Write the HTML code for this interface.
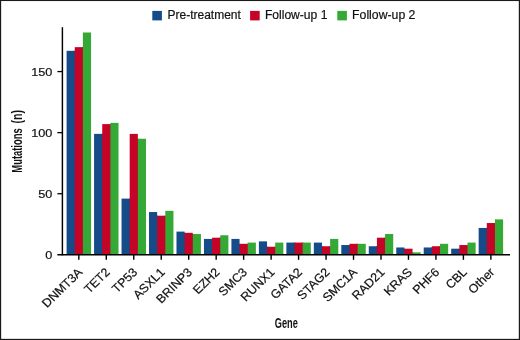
<!DOCTYPE html>
<html><head><meta charset="utf-8"><title>Mutations by gene</title>
<style>
html,body{margin:0;padding:0;background:#fff;}
body{width:520px;height:340px;overflow:hidden;}
svg{display:block;}
text{font-family:"Liberation Sans",sans-serif;fill:#111;}
.t{stroke:#111;stroke-width:0.2px;}
</style></head><body>
<svg width="520" height="340" viewBox="0 0 520 340">
<rect x="0" y="0" width="520" height="340" fill="#fff"/>

<rect x="73.95" y="50.81" width="1.6" height="203.99" fill="#154b88"/>
<rect x="82.10" y="47.15" width="1.6" height="207.66" fill="#c50327"/>
<rect x="66.60" y="50.81" width="8.15" height="203.99" fill="#154b88"/>
<rect x="74.75" y="47.15" width="8.15" height="207.66" fill="#c50327"/>
<rect x="82.90" y="32.49" width="8.15" height="222.31" fill="#35a935"/>
<rect x="101.42" y="133.87" width="1.6" height="120.93" fill="#154b88"/>
<rect x="109.57" y="124.10" width="1.6" height="130.70" fill="#c50327"/>
<rect x="94.07" y="133.87" width="8.15" height="120.93" fill="#154b88"/>
<rect x="102.22" y="124.10" width="8.15" height="130.70" fill="#c50327"/>
<rect x="110.37" y="122.88" width="8.15" height="131.92" fill="#35a935"/>
<rect x="128.89" y="198.61" width="1.6" height="56.19" fill="#154b88"/>
<rect x="137.04" y="138.76" width="1.6" height="116.04" fill="#c50327"/>
<rect x="121.54" y="198.61" width="8.15" height="56.19" fill="#154b88"/>
<rect x="129.69" y="133.87" width="8.15" height="120.93" fill="#c50327"/>
<rect x="137.84" y="138.76" width="8.15" height="116.04" fill="#35a935"/>
<rect x="156.36" y="215.71" width="1.6" height="39.09" fill="#154b88"/>
<rect x="164.51" y="215.71" width="1.6" height="39.09" fill="#c50327"/>
<rect x="149.01" y="212.05" width="8.15" height="42.75" fill="#154b88"/>
<rect x="157.16" y="215.71" width="8.15" height="39.09" fill="#c50327"/>
<rect x="165.31" y="210.83" width="8.15" height="43.97" fill="#35a935"/>
<rect x="183.83" y="232.81" width="1.6" height="21.99" fill="#154b88"/>
<rect x="191.98" y="234.03" width="1.6" height="20.77" fill="#c50327"/>
<rect x="176.48" y="231.59" width="8.15" height="23.21" fill="#154b88"/>
<rect x="184.63" y="232.81" width="8.15" height="21.99" fill="#c50327"/>
<rect x="192.78" y="234.03" width="8.15" height="20.77" fill="#35a935"/>
<rect x="211.30" y="238.92" width="1.6" height="15.88" fill="#154b88"/>
<rect x="219.45" y="237.70" width="1.6" height="17.10" fill="#c50327"/>
<rect x="203.95" y="238.92" width="8.15" height="15.88" fill="#154b88"/>
<rect x="212.10" y="237.70" width="8.15" height="17.10" fill="#c50327"/>
<rect x="220.25" y="235.26" width="8.15" height="19.54" fill="#35a935"/>
<rect x="238.77" y="243.81" width="1.6" height="10.99" fill="#154b88"/>
<rect x="246.92" y="243.81" width="1.6" height="10.99" fill="#c50327"/>
<rect x="231.42" y="238.92" width="8.15" height="15.88" fill="#154b88"/>
<rect x="239.57" y="243.81" width="8.15" height="10.99" fill="#c50327"/>
<rect x="247.72" y="242.59" width="8.15" height="12.21" fill="#35a935"/>
<rect x="266.24" y="246.74" width="1.6" height="8.06" fill="#154b88"/>
<rect x="274.39" y="246.74" width="1.6" height="8.06" fill="#c50327"/>
<rect x="258.89" y="241.36" width="8.15" height="13.44" fill="#154b88"/>
<rect x="267.04" y="246.74" width="8.15" height="8.06" fill="#c50327"/>
<rect x="275.19" y="242.59" width="8.15" height="12.21" fill="#35a935"/>
<rect x="293.71" y="242.59" width="1.6" height="12.21" fill="#154b88"/>
<rect x="301.86" y="242.59" width="1.6" height="12.21" fill="#c50327"/>
<rect x="286.36" y="242.59" width="8.15" height="12.21" fill="#154b88"/>
<rect x="294.51" y="242.59" width="8.15" height="12.21" fill="#c50327"/>
<rect x="302.66" y="242.59" width="8.15" height="12.21" fill="#35a935"/>
<rect x="321.18" y="246.25" width="1.6" height="8.55" fill="#154b88"/>
<rect x="329.33" y="246.25" width="1.6" height="8.55" fill="#c50327"/>
<rect x="313.83" y="242.59" width="8.15" height="12.21" fill="#154b88"/>
<rect x="321.98" y="246.25" width="8.15" height="8.55" fill="#c50327"/>
<rect x="330.13" y="238.92" width="8.15" height="15.88" fill="#35a935"/>
<rect x="348.65" y="245.03" width="1.6" height="9.77" fill="#154b88"/>
<rect x="356.80" y="243.81" width="1.6" height="10.99" fill="#c50327"/>
<rect x="341.30" y="245.03" width="8.15" height="9.77" fill="#154b88"/>
<rect x="349.45" y="243.81" width="8.15" height="10.99" fill="#c50327"/>
<rect x="357.60" y="243.81" width="8.15" height="10.99" fill="#35a935"/>
<rect x="376.12" y="246.25" width="1.6" height="8.55" fill="#154b88"/>
<rect x="384.27" y="237.70" width="1.6" height="17.10" fill="#c50327"/>
<rect x="368.77" y="246.25" width="8.15" height="8.55" fill="#154b88"/>
<rect x="376.92" y="237.70" width="8.15" height="17.10" fill="#c50327"/>
<rect x="385.07" y="234.03" width="8.15" height="20.77" fill="#35a935"/>
<rect x="403.59" y="248.69" width="1.6" height="6.11" fill="#154b88"/>
<rect x="411.74" y="252.36" width="1.6" height="2.44" fill="#c50327"/>
<rect x="396.24" y="247.47" width="8.15" height="7.33" fill="#154b88"/>
<rect x="404.39" y="248.69" width="8.15" height="6.11" fill="#c50327"/>
<rect x="412.54" y="252.36" width="8.15" height="2.44" fill="#35a935"/>
<rect x="431.06" y="247.47" width="1.6" height="7.33" fill="#154b88"/>
<rect x="439.21" y="246.25" width="1.6" height="8.55" fill="#c50327"/>
<rect x="423.71" y="247.47" width="8.15" height="7.33" fill="#154b88"/>
<rect x="431.86" y="246.25" width="8.15" height="8.55" fill="#c50327"/>
<rect x="440.01" y="243.81" width="8.15" height="10.99" fill="#35a935"/>
<rect x="458.53" y="248.69" width="1.6" height="6.11" fill="#154b88"/>
<rect x="466.68" y="245.03" width="1.6" height="9.77" fill="#c50327"/>
<rect x="451.18" y="248.69" width="8.15" height="6.11" fill="#154b88"/>
<rect x="459.33" y="245.03" width="8.15" height="9.77" fill="#c50327"/>
<rect x="467.48" y="242.59" width="8.15" height="12.21" fill="#35a935"/>
<rect x="486.00" y="227.93" width="1.6" height="26.87" fill="#154b88"/>
<rect x="494.15" y="223.04" width="1.6" height="31.76" fill="#c50327"/>
<rect x="478.65" y="227.93" width="8.15" height="26.87" fill="#154b88"/>
<rect x="486.80" y="223.04" width="8.15" height="31.76" fill="#c50327"/>
<rect x="494.95" y="219.38" width="8.15" height="35.42" fill="#35a935"/>


<line x1="62.4" y1="27.2" x2="62.4" y2="255.4" stroke="#000" stroke-width="1.45"/>
<line x1="57.4" y1="254.75" x2="510" y2="254.75" stroke="#000" stroke-width="1.5"/>
<line x1="57.4" y1="193.73" x2="62.4" y2="193.73" stroke="#000" stroke-width="1.3"/>
<line x1="57.4" y1="132.65" x2="62.4" y2="132.65" stroke="#000" stroke-width="1.3"/>
<line x1="57.4" y1="71.58" x2="62.4" y2="71.58" stroke="#000" stroke-width="1.3"/>
<text class="t" font-size="12" text-anchor="end" transform="translate(52.4 258.75) scale(1.06 0.98)">0</text>
<text class="t" font-size="12" text-anchor="end" transform="translate(52.4 197.68) scale(1.06 0.98)">50</text>
<text class="t" font-size="12" text-anchor="end" transform="translate(52.4 136.60) scale(1.06 0.98)">100</text>
<text class="t" font-size="12" text-anchor="end" transform="translate(52.4 75.53) scale(1.06 0.98)">150</text>


<line x1="78.82" y1="254.6" x2="78.82" y2="259.8" stroke="#000" stroke-width="1.4"/>
<text class="t" font-size="12.4" text-anchor="end" transform="translate(83.12 272.90) scale(1.0 0.98) rotate(-45)">DNMT3A</text>
<line x1="106.29" y1="254.6" x2="106.29" y2="259.8" stroke="#000" stroke-width="1.4"/>
<text class="t" font-size="12.4" text-anchor="end" transform="translate(110.59 272.90) scale(1.0 0.98) rotate(-45)">TET2</text>
<line x1="133.76" y1="254.6" x2="133.76" y2="259.8" stroke="#000" stroke-width="1.4"/>
<text class="t" font-size="12.4" text-anchor="end" transform="translate(138.06 272.90) scale(1.0 0.98) rotate(-45)">TP53</text>
<line x1="161.23" y1="254.6" x2="161.23" y2="259.8" stroke="#000" stroke-width="1.4"/>
<text class="t" font-size="12.4" text-anchor="end" transform="translate(165.53 272.90) scale(1.0 0.98) rotate(-45)">ASXL1</text>
<line x1="188.70" y1="254.6" x2="188.70" y2="259.8" stroke="#000" stroke-width="1.4"/>
<text class="t" font-size="12.4" text-anchor="end" transform="translate(193.00 272.90) scale(1.0 0.98) rotate(-45)">BRINP3</text>
<line x1="216.17" y1="254.6" x2="216.17" y2="259.8" stroke="#000" stroke-width="1.4"/>
<text class="t" font-size="12.4" text-anchor="end" transform="translate(220.47 272.90) scale(1.0 0.98) rotate(-45)">EZH2</text>
<line x1="243.64" y1="254.6" x2="243.64" y2="259.8" stroke="#000" stroke-width="1.4"/>
<text class="t" font-size="12.4" text-anchor="end" transform="translate(247.94 272.90) scale(1.0 0.98) rotate(-45)">SMC3</text>
<line x1="271.12" y1="254.6" x2="271.12" y2="259.8" stroke="#000" stroke-width="1.4"/>
<text class="t" font-size="12.4" text-anchor="end" transform="translate(275.42 272.90) scale(1.0 0.98) rotate(-45)">RUNX1</text>
<line x1="298.59" y1="254.6" x2="298.59" y2="259.8" stroke="#000" stroke-width="1.4"/>
<text class="t" font-size="12.4" text-anchor="end" transform="translate(302.89 272.90) scale(1.0 0.98) rotate(-45)">GATA2</text>
<line x1="326.06" y1="254.6" x2="326.06" y2="259.8" stroke="#000" stroke-width="1.4"/>
<text class="t" font-size="12.4" text-anchor="end" transform="translate(330.36 272.90) scale(1.0 0.98) rotate(-45)">STAG2</text>
<line x1="353.52" y1="254.6" x2="353.52" y2="259.8" stroke="#000" stroke-width="1.4"/>
<text class="t" font-size="12.4" text-anchor="end" transform="translate(357.82 272.90) scale(1.0 0.98) rotate(-45)">SMC1A</text>
<line x1="381.00" y1="254.6" x2="381.00" y2="259.8" stroke="#000" stroke-width="1.4"/>
<text class="t" font-size="12.4" text-anchor="end" transform="translate(385.30 272.90) scale(1.0 0.98) rotate(-45)">RAD21</text>
<line x1="408.47" y1="254.6" x2="408.47" y2="259.8" stroke="#000" stroke-width="1.4"/>
<text class="t" font-size="12.4" text-anchor="end" transform="translate(412.77 272.90) scale(1.0 0.98) rotate(-45)">KRAS</text>
<line x1="435.94" y1="254.6" x2="435.94" y2="259.8" stroke="#000" stroke-width="1.4"/>
<text class="t" font-size="12.4" text-anchor="end" transform="translate(440.24 272.90) scale(1.0 0.98) rotate(-45)">PHF6</text>
<line x1="463.40" y1="254.6" x2="463.40" y2="259.8" stroke="#000" stroke-width="1.4"/>
<text class="t" font-size="12.4" text-anchor="end" transform="translate(467.70 272.90) scale(1.0 0.98) rotate(-45)">CBL</text>
<line x1="490.88" y1="254.6" x2="490.88" y2="259.8" stroke="#000" stroke-width="1.4"/>
<text class="t" font-size="12.4" text-anchor="end" transform="translate(495.18 272.90) scale(1.0 0.98) rotate(-45)">Other</text>


<rect x="152.3" y="10.9" width="9.6" height="9.5" fill="#154b88"/>
<text class="t" font-size="12" transform="translate(167.5 19.3)">Pre-treatment</text>
<rect x="250.1" y="10.9" width="9.6" height="9.5" fill="#c50327"/>
<text class="t" font-size="12.1" transform="translate(264.9 19.3)">Follow-up 1</text>
<rect x="337.3" y="10.9" width="9.6" height="9.5" fill="#35a935"/>
<text class="t" font-size="12.25" transform="translate(352.1 19.3)">Follow-up 2</text>


<text font-size="14.9" font-weight="bold" transform="translate(21.7 172.7) rotate(-90)"><tspan x="0" textLength="44.4" lengthAdjust="spacingAndGlyphs">Mutations</tspan><tspan x="44.4" textLength="4.7" lengthAdjust="spacingAndGlyphs"> </tspan><tspan x="49.1" textLength="13.6" lengthAdjust="spacingAndGlyphs">(n)</tspan></text>
<text font-size="15.1" font-weight="bold" x="274.7" y="328.3" textLength="23.1" lengthAdjust="spacingAndGlyphs">Gene</text>
<rect x="0" y="0" width="520" height="1.05" fill="#1a1a1a"/><rect x="0" y="338.85" width="520" height="1.15" fill="#1a1a1a"/><rect x="0" y="0" width="1.15" height="340" fill="#1a1a1a"/><rect x="518.8" y="0" width="1.2" height="340" fill="#1a1a1a"/>
</svg></body></html>
